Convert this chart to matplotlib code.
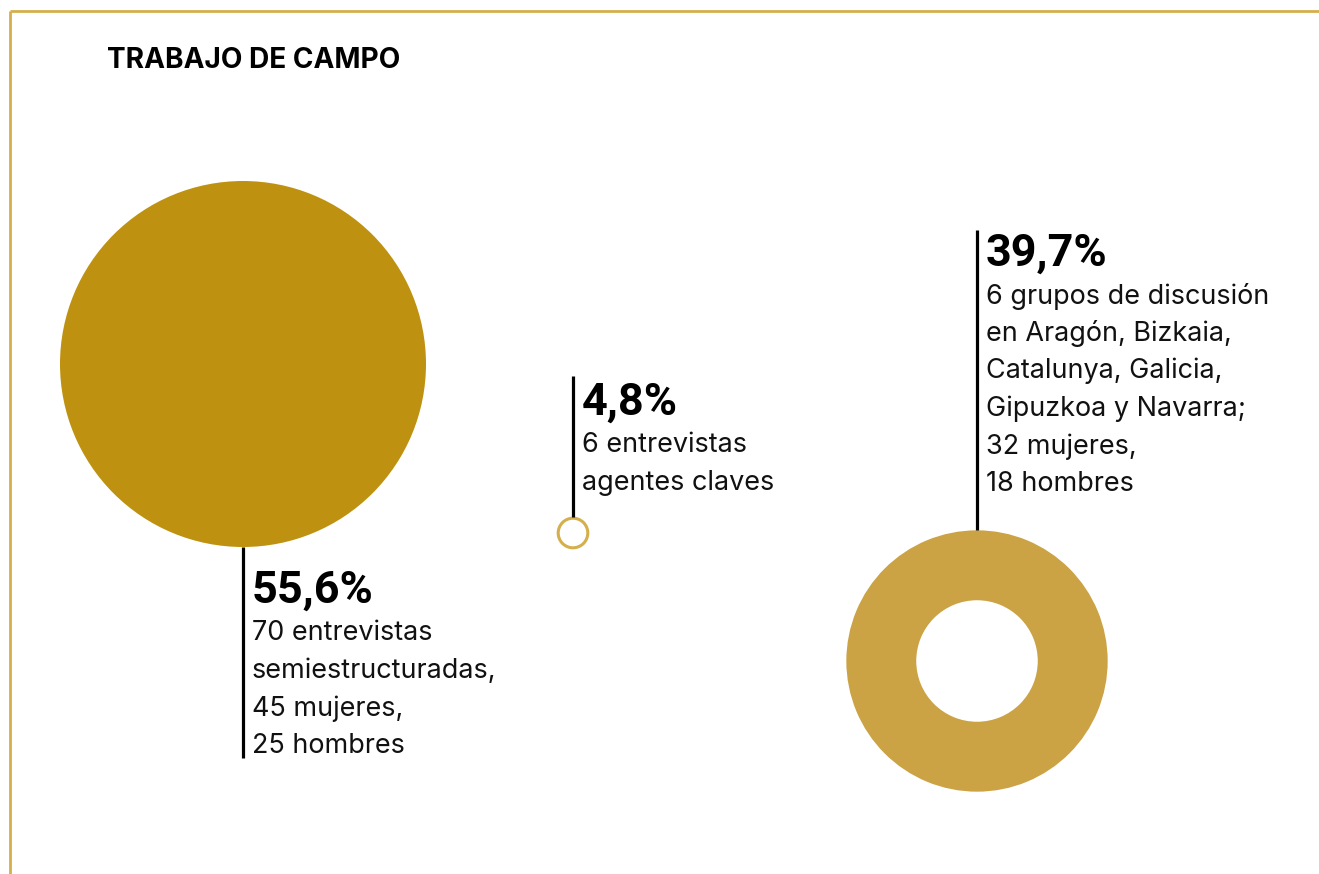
import matplotlib
matplotlib.use('Agg')
import matplotlib.pyplot as plt
from matplotlib.patches import Circle, Wedge

# datos
valores = [55.6, 4.8, 39.7]
porcentajes = ['55,6%', '4,8%', '39,7%']
textos = [
    ['70 entrevistas', 'semiestructuradas,', '45 mujeres,', '25 hombres'],
    ['6 entrevistas', 'agentes claves'],
    ['6 grupos de discusión', 'en Aragón, Bizkaia,', 'Catalunya, Galicia,',
     'Gipuzkoa y Navarra;', '32 mujeres,', '18 hombres'],
]
titulo = 'TRABAJO DE CAMPO'

# layout (pixeles)
W, H = 1319, 874
centros = [(243, 364), (573, 533), (977, 661)]
escala = 183 / 55.6          # radio proporcional al valor
lineas = [(None, 758), (376, None), (230, None)]   # (arriba, abajo)
base_pct = [603, 415, 266]
oro1 = '#BE9210'
oro2 = '#CBA244'
oro_borde = '#D4AF4C'
px = 72 / 100

fig = plt.figure(figsize=(W / 100, H / 100), dpi=100)
ax = fig.add_axes([0, 0, 1, 1])
ax.set_xlim(0, W)
ax.set_ylim(H, 0)
ax.axis('off')

# marco
ax.plot([10, W], [11, 11], color=oro_borde, lw=2, solid_capstyle='butt')
ax.plot([10, 10], [11, H], color=oro_borde, lw=2, solid_capstyle='butt')

ax.text(107, 68, titulo, fontsize=28 * px, fontweight='bold',
        family='Inter', va='baseline', ha='left', color='black')

for i in range(3):
    cx, cy = centros[i]
    r = valores[i] * escala
    if i == 0:
        ax.add_patch(Circle((cx, cy), r, facecolor=oro1, edgecolor='none'))
    elif i == 1:
        ax.add_patch(Circle((cx, cy), r - 1, facecolor='white',
                            edgecolor=oro_borde, lw=2.2))
    else:
        ax.add_patch(Wedge((cx, cy), r, 0, 360, width=r * 0.535,
                           facecolor=oro2, edgecolor='none'))
    top, bot = lineas[i]
    if top is None:
        top = cy + r
    if bot is None:
        bot = cy - r
    ax.plot([cx, cx], [top, bot], color='black', lw=2.3,
            solid_capstyle='butt', zorder=1)

    tx = cx + 9
    ax.text(tx, base_pct[i], porcentajes[i], fontsize=45 * px,
            fontweight='bold', family='Roboto', va='baseline', ha='left',
            color='black')
    for j, t in enumerate(textos[i]):
        ax.text(tx, base_pct[i] + 37.5 * (j + 1), t, fontsize=27 * px,
                family='Inter', va='baseline', ha='left', color='#111111')

fig.savefig('out.png', dpi=100, facecolor='white')
